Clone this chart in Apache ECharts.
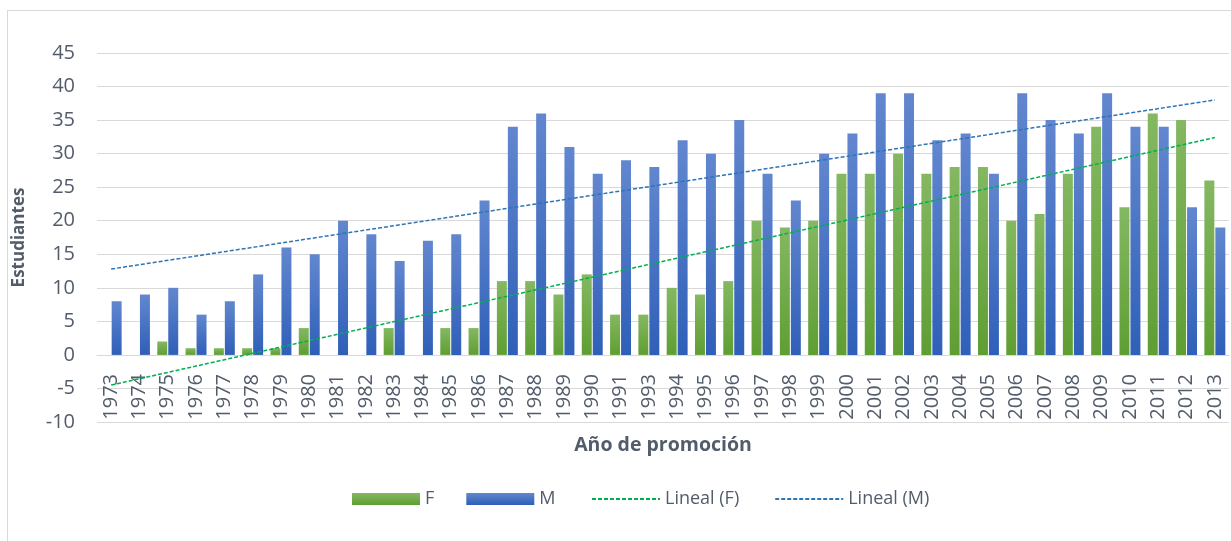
<!DOCTYPE html>
<html>
<head>
<meta charset="utf-8">
<script src="https://cdn.jsdelivr.net/npm/echarts@6/dist/echarts.min.js"></script>
<style>
  html, body { margin: 0; padding: 0; background: #fff; }
  #frame { position: absolute; left: 7px; top: 10px; width: 1230px; height: 540px; border: 1px solid #d9d9d9; box-sizing: border-box; }
  #chart { position: absolute; left: 0; top: 0; width: 1231px; height: 541px; }
</style>
</head>
<body>
<div id="frame"></div>
<div id="chart"></div>
<script>
// Año de promoción (note: no 1992 in the source)
const years = ["1973","1974","1975","1976","1977","1978","1979","1980","1981","1982",
  "1983","1984","1985","1986","1987","1988","1989","1990","1991","1993",
  "1994","1995","1996","1997","1998","1999","2000","2001","2002","2003",
  "2004","2005","2006","2007","2008","2009","2010","2011","2012","2013"];
const femVals = [0,0,2,1,1,1,1,4,0,0, 4,0,4,4,11,11,9,12,6,6,
  10,9,11,20,19,20,27,27,30,27, 28,28,20,21,27,34,22,36,35,26];
const masVals = [8,9,10,6,8,12,16,15,20,18, 14,17,18,23,34,36,31,27,29,28,
  32,30,35,27,23,30,33,39,39,32, 33,27,39,35,33,39,34,34,22,19];
// linear trend endpoints (first / last year)
const trendF = [-4.5, 32.4];
const trendM = [12.8, 38.0];

const TXT = "#525c6b", GRID = "#d9d9d9";
const grad = (top, bottom) => ({ type: "linear", x: 0, y: 0, x2: 0, y2: 1,
  colorStops: [{ offset: 0, color: top }, { offset: 1, color: bottom }] });
const ends = (v) => [[years[0], v[0]], [years[years.length - 1], v[1]]];
const legendBase = { top: 485, itemWidth: 68, itemHeight: 12, textStyle: { color: TXT, fontSize: 18 } };

echarts.init(document.getElementById("chart")).setOption({
  animation: false,
  textStyle: { fontFamily: "Open Sans, sans-serif" },
  grid: { left: 97, right: 2, top: 53, bottom: 119, containLabel: false },
  legend: [
    { ...legendBase, left: 347, itemGap: 32,
      data: [{ name: "F", icon: "rect" }, { name: "M", icon: "rect" }] },
    { ...legendBase, left: 586, itemGap: 35,
      data: [{ name: "Lineal (F)", itemStyle: { opacity: 0 } },
             { name: "Lineal (M)", itemStyle: { opacity: 0 } }] },
  ],
  xAxis: {
    type: "category", data: years, offset: -67,
    axisLine: { onZero: false, lineStyle: { color: GRID } },
    axisTick: { show: false },
    axisLabel: { rotate: 90, color: TXT, fontSize: 20, margin: 19, interval: 0 },
    name: "Año de promoción", nameLocation: "middle", nameGap: 80, nameMoveOverlap: false,
    nameTextStyle: { color: TXT, fontSize: 19.5, fontWeight: "bold" },
  },
  yAxis: {
    type: "value", min: -10, max: 45, interval: 5,
    axisLine: { show: false }, axisTick: { show: false },
    axisLabel: { color: TXT, fontSize: 20, margin: 22 },
    splitLine: { lineStyle: { color: GRID, width: 1 } },
    name: "Estudiantes", nameLocation: "middle", nameGap: 69,
    nameTextStyle: { color: TXT, fontSize: 17, fontWeight: "bold" },
  },
  series: [
    { name: "F", type: "bar", data: femVals, barGap: "10%", barCategoryGap: "26%",
      itemStyle: { color: grad("#84b862", "#5f9e33") } },
    { name: "M", type: "bar", data: masVals,
      itemStyle: { color: grad("#6287cf", "#2f5fb8") } },
    { name: "Lineal (F)", type: "line", data: ends(trendF), symbol: "none", silent: true,
      itemStyle: { color: "#00b050" },
      lineStyle: { color: "#00b050", width: 1.5, type: [4, 2] } },
    { name: "Lineal (M)", type: "line", data: ends(trendM), symbol: "none", silent: true,
      itemStyle: { color: "#2e75b6" },
      lineStyle: { color: "#2e75b6", width: 1.5, type: [4, 2] } },
  ],
});
</script>
</body>
</html>
